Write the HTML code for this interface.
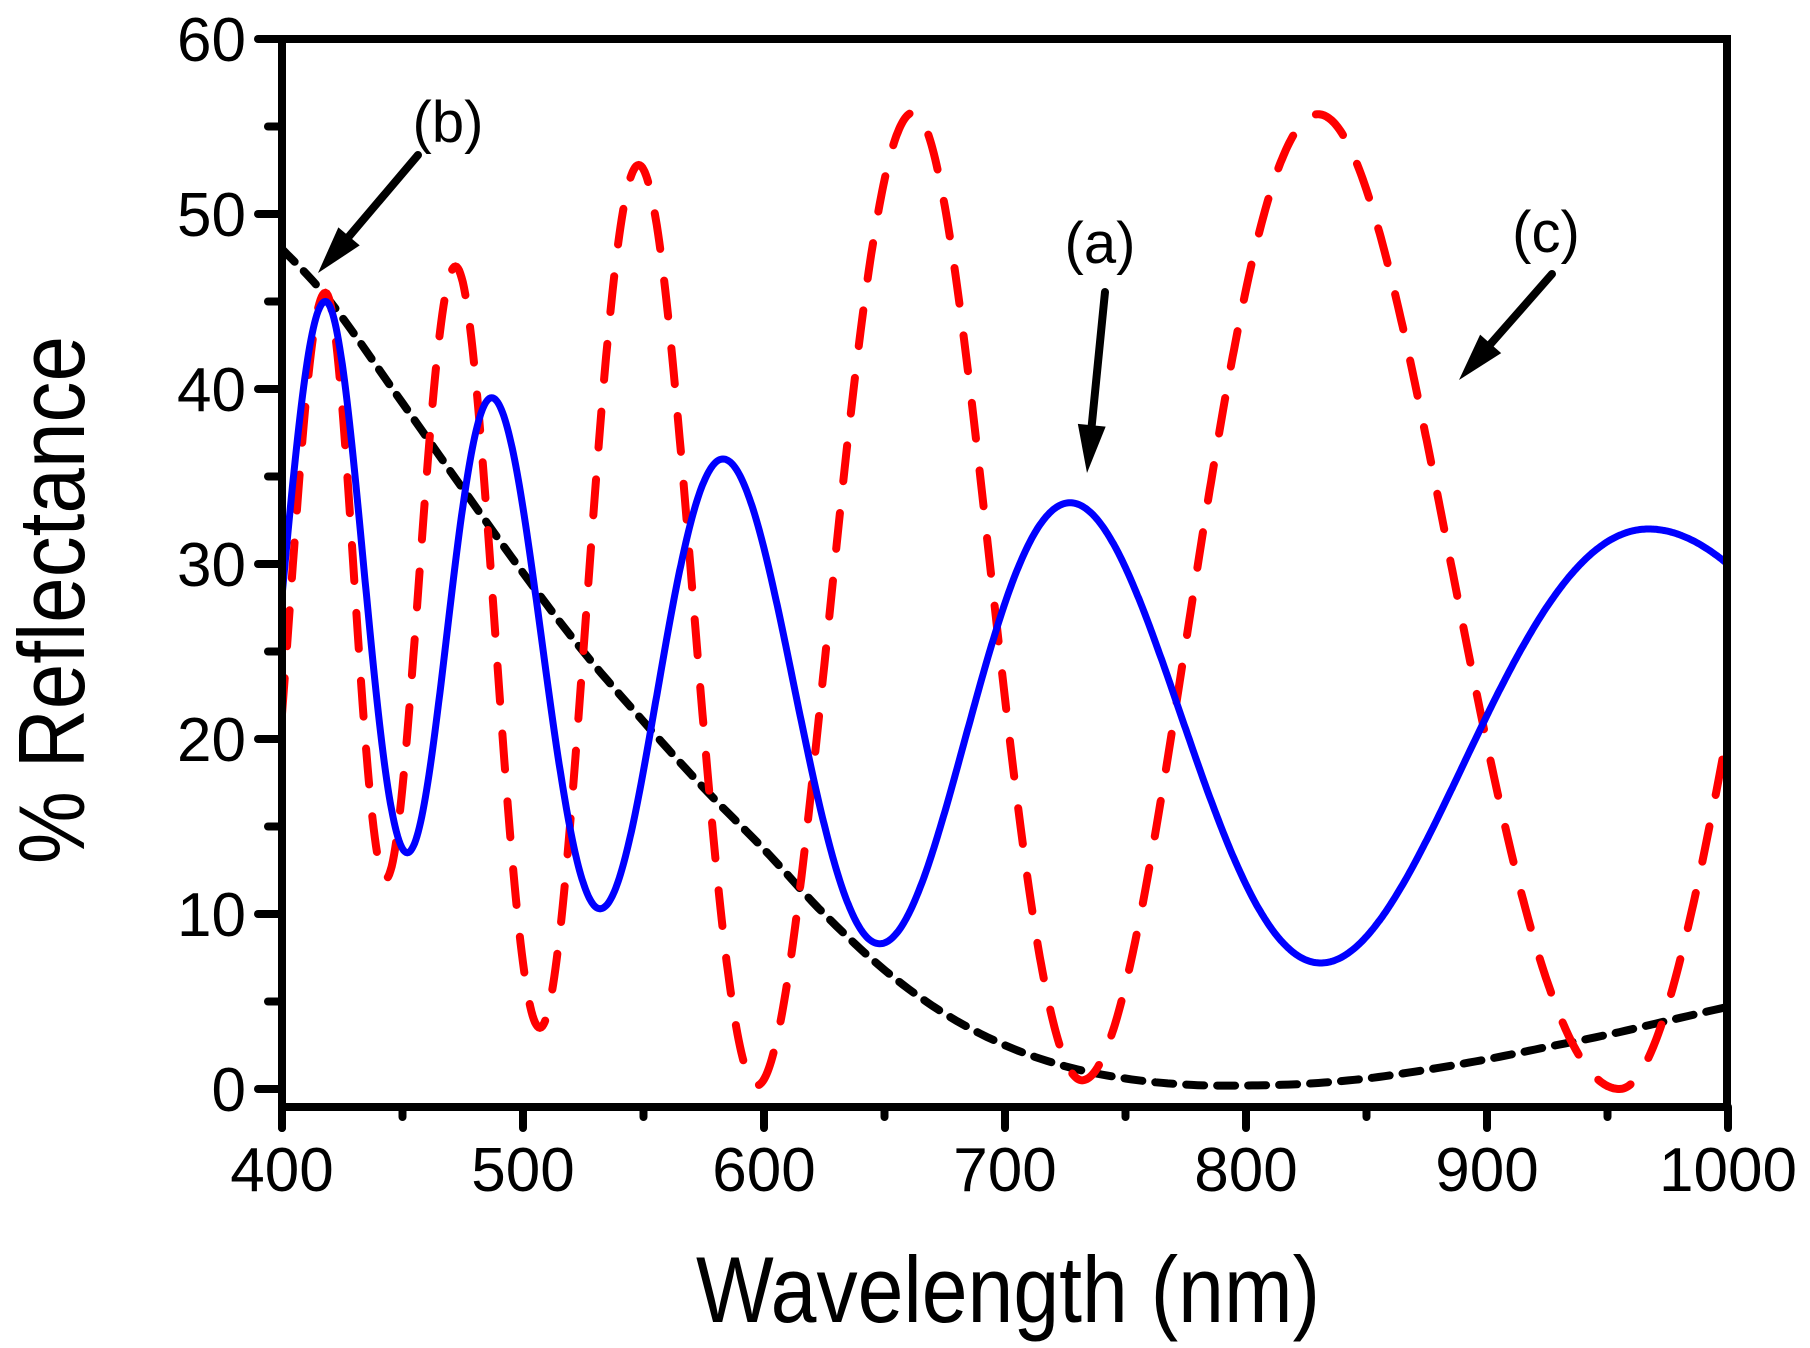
<!DOCTYPE html>
<html><head><meta charset="utf-8"><style>
html,body{margin:0;padding:0;background:#fff;}
svg{display:block;}
text{font-family:"Liberation Sans",sans-serif;fill:#000;}
</style></head><body>
<svg id="s" width="1810" height="1348" viewBox="0 0 1810 1348" xmlns="http://www.w3.org/2000/svg">
<g id="curves"></g>
<g stroke="#000" stroke-width="8" stroke-linecap="round" fill="none">
<path d="M282 39 H1727 V1107 H282 Z"/>
<path d="M282 1107 V1128"/>
</g>
<g id="ticks" stroke="#000" stroke-width="8" stroke-linecap="round"></g>
<g id="labels" font-size="62"></g>
<text x="1008" y="1322" font-size="94" text-anchor="middle" textLength="624" lengthAdjust="spacingAndGlyphs">Wavelength (nm)</text>
<text transform="translate(84,600) rotate(-90)" font-size="94" text-anchor="middle" textLength="528" lengthAdjust="spacingAndGlyphs">% Reflectance</text>
<g font-size="58" text-anchor="middle">
<text x="448" y="142">(b)</text>
<text x="1100" y="263">(a)</text>
<text x="1546" y="252">(c)</text>
</g>
<g id="arrows"></g>
</svg>
<script>
const X=l=>282+(l-400)*241/100, Y=v=>1089-v*17.5;
const s=document.getElementById('s'),NS='http://www.w3.org/2000/svg';
function el(p,t,a){const e=document.createElementNS(NS,t);for(const k in a)e.setAttribute(k,a[k]);p.appendChild(e);return e;}
const tk=document.getElementById('ticks'),lb=document.getElementById('labels');
for(let v=0;v<=60;v+=5){const y=Y(v);el(tk,'line',{x1:282,x2:v%10?268:258,y1:y,y2:y});
 if(v%10==0){const t=el(lb,'text',{x:246,y:y+22,'text-anchor':'end'});t.textContent=v;}}
for(let l=400;l<=1000;l+=50){const x=X(l);el(tk,'line',{x1:x,x2:x,y1:1107,y2:l%100?1117:1128});
 if(l%100==0){const t=el(lb,'text',{x:x,y:1191,'text-anchor':'middle'});t.textContent=l;}}
function osc(ex){
 let pts=[];for(let l=400;l<=1000;l+=0.5){const u=1000/l;let i=0;
  while(i<ex.length-2&&1000/ex[i+1][0]>=u)i++;
  const a=ex[i],b=ex[i+1],ua=1000/a[0],ub=1000/b[0];const p=(ua-u)/(ua-ub);
  const v=a[1]+(b[1]-a[1])*(1-Math.cos(Math.PI*p))/2;pts.push([X(l),Y(v)]);}
 return 'M'+pts.map(p=>p[0].toFixed(1)+' '+p[1].toFixed(1)).join('L');}
const blue=[[385.8,15],[418,45],[452,13.5],[487,39.5],[532,10.3],[583,36],[648,8.3],[727,33.5],[831,7.2],[967,32],[1184,6]];
const red=[[390.7,12],[418,45.5],[443,12],[472,47],[507,3.5],[548,52.8],[597,0.2],[662,55.8],[732,0.5],[830,55.7],[955,0],[1070,55]];
const blk=[[400,48],[420,45],[450,39.2],[475,34.3],[500,29.5],[525,25],[550,21],[575,17.2],[600,13.7],[625,10],[650,6.8],[675,4.3],[700,2.5],[725,1.3],[750,0.6],[775,0.25],[800,0.2],[825,0.3],[850,0.6],[875,1.1],[900,1.7],[925,2.4],[950,3.1],[975,3.9],[1000,4.7]];
function cr(P){let d='M'+X(P[0][0])+' '+Y(P[0][1]);
 for(let i=0;i<P.length-1;i++){const p0=P[Math.max(0,i-1)],p1=P[i],p2=P[i+1],p3=P[Math.min(P.length-1,i+2)];
  for(let t=0.1;t<=1.001;t+=0.1){const f=(a,b,c,d)=>0.5*(2*b+(-a+c)*t+(2*a-5*b+4*c-d)*t*t+(-a+3*b-3*c+d)*t*t*t);
   d+='L'+X(f(p0[0],p1[0],p2[0],p3[0])).toFixed(1)+' '+Y(f(p0[1],p1[1],p2[1],p3[1])).toFixed(1);}}
 return d;}
const g=document.getElementById('curves');
el(g,'path',{d:cr(blk),stroke:'#000','stroke-width':8,fill:'none','stroke-dasharray':'18 13','stroke-linecap':'round'});
el(g,'path',{d:osc(red),stroke:'#f00','stroke-width':8,fill:'none','stroke-dasharray':'36 32','stroke-linecap':'round'});
el(g,'path',{d:osc(blue),stroke:'#00f','stroke-width':7,fill:'none'});
const ar=document.getElementById('arrows');
function arrow(x1,y1,x2,y2){const dx=x2-x1,dy=y2-y1,L=Math.hypot(dx,dy),ux=dx/L,uy=dy/L,h=48,w=14;
 const bx=x2-ux*h,by=y2-uy*h;
 el(ar,'line',{x1,y1,x2:bx,y2:by,stroke:'#000','stroke-width':8,'stroke-linecap':'round'});
 el(ar,'polygon',{points:`${x2},${y2} ${bx-uy*w},${by+ux*w} ${bx+uy*w},${by-ux*w}`,fill:'#000'});}
arrow(418,155,318,273);arrow(1105,292,1087,473);arrow(1552,274,1459,380);
</script>
</body></html>
